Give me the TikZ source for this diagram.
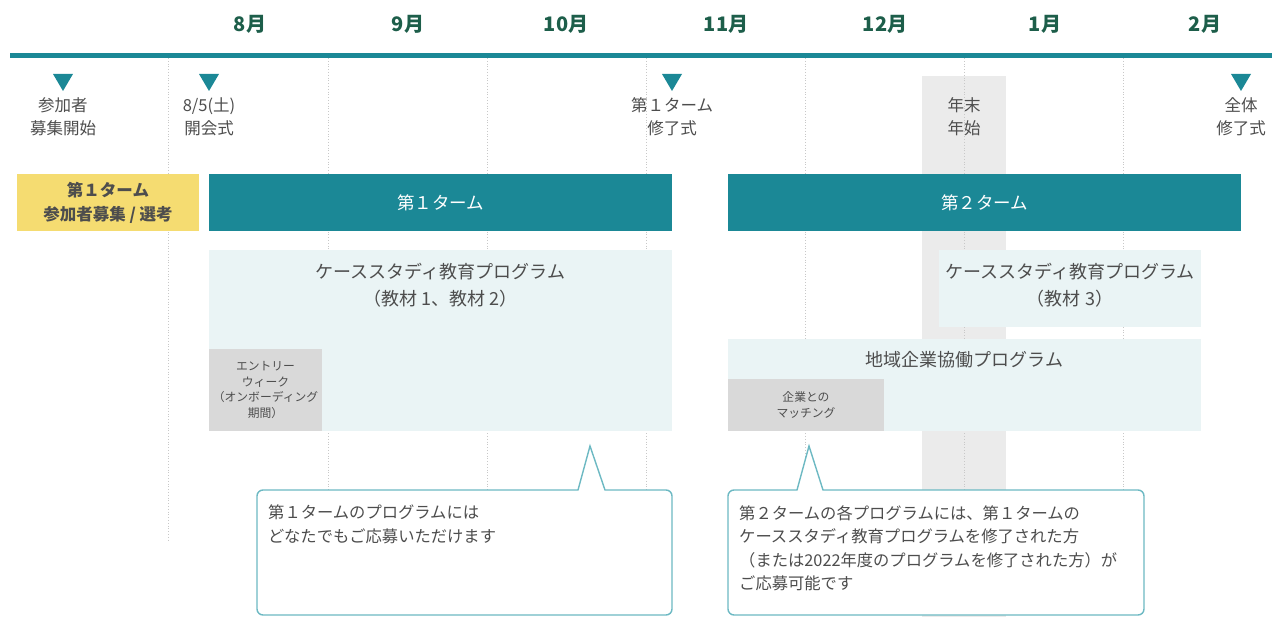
\documentclass[tikz,border=0pt]{standalone}
\usepackage{fontspec}
\setmainfont{Noto Sans CJK JP}
\definecolor{teal1}{HTML}{1B8896}
\definecolor{lightbg}{HTML}{EAF4F5}
\definecolor{graybox}{HTML}{D9D9D9}
\definecolor{bandgray}{HTML}{EBEBEB}
\definecolor{yellowbox}{HTML}{F5DC71}
\definecolor{monthcol}{HTML}{1D5E4A}
\definecolor{txtgray}{HTML}{4D4D4D}
\definecolor{callline}{HTML}{6DB9C3}
\definecolor{gridcol}{HTML}{C8C8C8}
\begin{document}
\begin{tikzpicture}[x=1pt,y=-1pt,
  month/.style={font=\fontsize{20}{24}\selectfont\bfseries, text=monthcol, inner sep=0pt},
  lbl/.style={font=\fontsize{16.5}{23}\selectfont, text=txtgray, align=center, inner sep=0pt},
  tri/.style={fill=teal1, draw=none},
  bar/.style={fill=teal1, draw=none, inner sep=0pt, outer sep=0pt, text=white, font=\fontsize{17.5}{20}\selectfont},
  ybox/.style={fill=yellowbox, draw=none, inner sep=0pt, outer sep=0pt, text=txtgray, align=center, font=\fontsize{16.5}{24}\selectfont\bfseries},
  pbox/.style={fill=lightbg, draw=none, inner sep=0pt, outer sep=0pt},
  gbox/.style={fill=graybox, draw=none, inner sep=0pt, outer sep=0pt, text=txtgray, align=center, font=\fontsize{11.8}{15.5}\selectfont},
  ptext/.style={font=\fontsize{18}{27}\selectfont, text=txtgray, align=center, inner sep=0pt},
  callout/.style={draw=callline, line width=1.4pt, fill=white},
  ctext/.style={font=\fontsize{16.3}{23.5}\selectfont, text=txtgray, align=left, inner sep=0pt, anchor=north west},
  gridline/.style={draw=gridcol, dotted, line width=0.8pt}
]
\useasboundingbox (0,0) rectangle (1272,617);
% band
\fill[bandgray] (922,76) rectangle (1006,617);
% grid lines
\foreach \gx in {168,328,487,646,805,964,1123}
  \draw[gridline] (\gx,58) -- (\gx,540);
% months
\node[month] (m8) at (250,24) {8月};
\node[month] (m9) at (408,24) {9月};
\node[month] (m10) at (566,24) {10月};
\node[month] (m11) at (726,24) {11月};
\node[month] (m12) at (885,24) {12月};
\node[month] (m1) at (1045,24) {1月};
\node[month] (m2) at (1205,24) {2月};
% top line
\fill[teal1] (10,53) rectangle (1272,58);
% triangles
\foreach \tx in {63,209,672,1241}
  \fill[teal1] (\tx-10,74) -- (\tx+10,74) -- (\tx,91) -- cycle;
% labels
\node[lbl] (l1) at (63,117) {参加者\\募集開始};
\node[lbl] (l2) at (209,117) {8/5(土)\\開会式};
\node[lbl] (l3) at (672,117) {第１ターム\\修了式};
\node[lbl] (l4) at (1241,117) {全体\\修了式};
\node[lbl] (l5) at (964,117) {年末\\年始};
% bars
\node[ybox, minimum width=182, minimum height=57] (yb) at (108,202.5) {第１ターム\\参加者募集 / 選考};
\node[bar, minimum width=463, minimum height=57] (t1) at (440.5,202.5) {第１ターム};
\node[bar, minimum width=513, minimum height=57] (t2) at (984.5,202.5) {第２ターム};
% programs
\node[pbox, minimum width=463, minimum height=181] (cs1) at (440.5,340.5) {};
\node[ptext] (cs1t) at (440.5,285) {ケーススタディ教育プログラム\\（教材 1、教材 2）};
\node[gbox, minimum width=113, minimum height=82] (ew) at (265.5,390) {エントリー\\ウィーク\\（オンボーディング\\期間）};
\node[pbox, minimum width=262, minimum height=77] (cs2) at (1070,288.5) {};
\node[ptext] (cs2t) at (1070,285) {ケーススタディ教育プログラム\\（教材 3）};
\node[pbox, minimum width=473, minimum height=92] (ck) at (964.5,385) {};
\node[ptext] (ckt) at (964.5,360) {地域企業協働プログラム};
\node[gbox, minimum width=156, minimum height=52] (mt) at (806,405) {企業との\\マッチング};
% callouts
\draw[callout] (590,446) [sharp corners] -- (605,490) [rounded corners=6] -- (672,490) -- (672,615) -- (257,615) -- (257,490) [sharp corners] -- (578,490) -- cycle;
\node[ctext] (c1) at (268,505) {第１タームのプログラムには\\どなたでもご応募いただけます};
\draw[callout] (809,446) [sharp corners] -- (823,490) [rounded corners=6] -- (1144,490) -- (1144,615) -- (728,615) -- (728,490) [sharp corners] -- (797,490) -- cycle;
\node[ctext] (c2) at (739,505) {第２タームの各プログラムには、第１タームの\\ケーススタディ教育プログラムを修了された方\\（または2022年度のプログラムを修了された方）が\\ご応募可能です};
\end{tikzpicture}
\end{document}
